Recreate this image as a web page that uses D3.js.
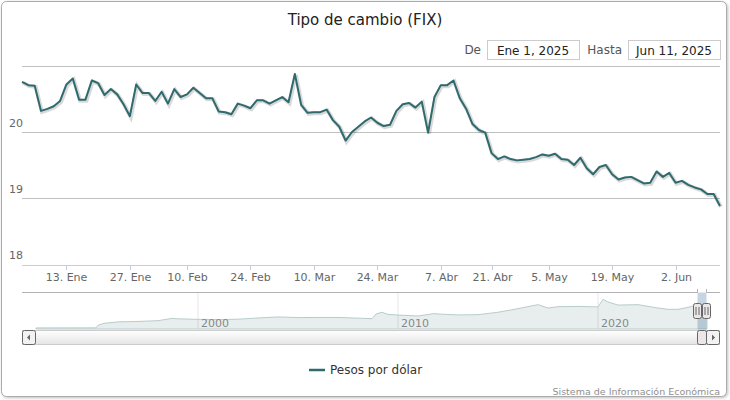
<!DOCTYPE html>
<html><head><meta charset="utf-8">
<script src="https://cdn.jsdelivr.net/npm/d3@7/dist/d3.min.js"></script>
<style>body{margin:0;background:#fff;font-family:"DejaVu Sans",sans-serif}</style>
</head><body><svg id="c" width="730" height="400"></svg>
<script>
const dates = ["2025-01-02","2025-01-03","2025-01-06","2025-01-07","2025-01-08","2025-01-09","2025-01-10","2025-01-13","2025-01-14","2025-01-15","2025-01-16","2025-01-17","2025-01-20","2025-01-21","2025-01-22","2025-01-23","2025-01-24","2025-01-27","2025-01-28","2025-01-29","2025-01-30","2025-01-31",
"2025-02-04","2025-02-05","2025-02-06","2025-02-07","2025-02-10","2025-02-11","2025-02-12","2025-02-13","2025-02-14","2025-02-17","2025-02-18","2025-02-19","2025-02-20","2025-02-21","2025-02-24","2025-02-25","2025-02-26","2025-02-27","2025-02-28",
"2025-03-03","2025-03-04","2025-03-05","2025-03-06","2025-03-07","2025-03-10","2025-03-11","2025-03-12","2025-03-13","2025-03-14","2025-03-17","2025-03-18","2025-03-19","2025-03-20","2025-03-21","2025-03-24","2025-03-25","2025-03-26","2025-03-27","2025-03-28","2025-03-31",
"2025-04-01","2025-04-02","2025-04-03","2025-04-04","2025-04-07","2025-04-08","2025-04-09","2025-04-10","2025-04-11","2025-04-14","2025-04-15","2025-04-16","2025-04-21","2025-04-22","2025-04-23","2025-04-24","2025-04-25","2025-04-28","2025-04-29","2025-04-30",
"2025-05-02","2025-05-05","2025-05-06","2025-05-07","2025-05-08","2025-05-09","2025-05-12","2025-05-13","2025-05-14","2025-05-15","2025-05-16","2025-05-19","2025-05-20","2025-05-21","2025-05-22","2025-05-23","2025-05-26","2025-05-27","2025-05-28","2025-05-29","2025-05-30",
"2025-06-02","2025-06-03","2025-06-04","2025-06-05","2025-06-06","2025-06-09","2025-06-10","2025-06-11"];
const values = [20.76,20.71,20.70,20.32,20.35,20.39,20.47,20.72,20.81,20.49,20.49,20.78,20.74,20.56,20.65,20.57,20.42,20.24,20.72,20.59,20.59,20.47,
20.61,20.43,20.65,20.53,20.57,20.67,20.59,20.51,20.51,20.31,20.30,20.27,20.43,20.40,20.36,20.48,20.48,20.43,20.48,
20.53,20.45,20.88,20.41,20.29,20.30,20.30,20.34,20.18,20.08,19.87,20.00,20.08,20.16,20.22,20.14,20.09,20.11,20.32,20.42,20.44,
20.37,20.46,19.99,20.53,20.71,20.71,20.78,20.51,20.35,20.12,20.03,19.99,19.68,19.59,19.63,19.59,19.57,19.58,19.59,19.62,
19.66,19.64,19.67,19.59,19.58,19.50,19.61,19.45,19.36,19.47,19.50,19.36,19.28,19.31,19.32,19.27,19.22,19.23,19.40,19.32,19.38,
19.23,19.26,19.20,19.16,19.13,19.06,19.06,18.88];
const xTickDates = ["2025-01-13","2025-01-27","2025-02-10","2025-02-24","2025-03-10","2025-03-24","2025-04-07","2025-04-21","2025-05-05","2025-05-19","2025-06-02"];
const xTickLabels = ["13. Ene","27. Ene","10. Feb","24. Feb","10. Mar","24. Mar","7. Abr","21. Abr","5. May","19. May","2. Jun"];
const yTicks = [18,19,20,21];
const navYears = [1991.9,1994.9,1995.0,1995.3,1996,1997,1998,1998.7,1999,2000,2001,2002,2003,2004,2005,2006,2007,2008.7,2008.9,2009.2,2009.5,2010,2011,2011.8,2012,2013,2014,2015,2016,2017,2017.5,2018,2019,2020,2020.25,2020.5,2021,2022,2023,2023.5,2024,2024.5,2025,2025.45];
const navValues = [3.07,3.1,5.0,6.5,7.6,7.9,8.5,10.2,9.9,9.5,9.3,9.6,10.5,11.3,10.8,10.9,10.9,10.0,13.5,14.8,13.2,12.7,12.0,13.8,13.5,12.8,13.0,14.8,17.5,20.5,18.0,19.0,19.2,18.8,24.5,22.5,20.2,20.5,18.0,17.0,17.0,18.5,20.5,19.0];
const navTicks = [2000,2010,2020];

const svg = d3.select("#c");
const col = "#2e6a6e";
const defs = svg.append("defs");
const f = defs.append("filter").attr("id","sh").attr("x","-5%").attr("y","-5%").attr("width","110%").attr("height","110%");
f.append("feDropShadow").attr("dx",1).attr("dy",1).attr("stdDeviation",1.5).attr("flood-color","#000").attr("flood-opacity",0.25);
svg.append("rect").attr("x",1.5).attr("y",1.5).attr("width",725).attr("height",395).attr("rx",5).attr("fill","#fff").attr("stroke","#aaa").attr("filter","url(#sh)");

svg.append("text").attr("x",365).attr("y",25).attr("text-anchor","middle").attr("font-size",15).attr("fill","#222").text("Tipo de cambio (FIX)");
svg.append("text").attr("x",481).attr("y",54).attr("text-anchor","end").attr("font-size",12).attr("fill","#555").text("De");
svg.append("rect").attr("x",487.5).attr("y",40.5).attr("width",92).attr("height",19).attr("fill","#fff").attr("stroke","#ccc");
svg.append("text").attr("x",533).attr("y",55).attr("text-anchor","middle").attr("font-size",12).attr("fill","#222").text("Ene 1, 2025");
svg.append("text").attr("x",622).attr("y",54).attr("text-anchor","end").attr("font-size",12).attr("fill","#555").text("Hasta");
svg.append("rect").attr("x",628.5).attr("y",40.5).attr("width",92).attr("height",19).attr("fill","#fff").attr("stroke","#ccc");
svg.append("text").attr("x",674).attr("y",55).attr("text-anchor","middle").attr("font-size",12).attr("fill","#222").text("Jun 11, 2025");

const x = d3.scalePoint().domain(dates).range([22,720]);
const y = d3.scaleLinear().domain([18,21]).range([264,66]);
const g = svg.append("g");
yTicks.forEach(t=>{
  if(t>18) g.append("line").attr("x1",22).attr("x2",720).attr("y1",y(t)+0.5).attr("y2",y(t)+0.5).attr("stroke","#c0c0c0");
  if(t<21) g.append("text").attr("x",9).attr("y",y(t)-5).attr("font-size",11).attr("fill","#666").text(t);
});
g.append("line").attr("x1",22).attr("x2",720).attr("y1",265.5).attr("y2",265.5).attr("stroke","#c0d0e0");
xTickDates.forEach((d,i)=>{
  const xx=Math.round(x(d))+0.5;
  g.append("line").attr("x1",xx).attr("x2",xx).attr("y1",265).attr("y2",270).attr("stroke","#c0d0e0");
  g.append("text").attr("x",xx).attr("y",281).attr("text-anchor","middle").attr("font-size",11).attr("fill","#666").text(xTickLabels[i]);
});
const line = d3.line().x((d,i)=>x(dates[i])).y(d=>y(d));
g.append("path").attr("d",line(values)).attr("fill","none").attr("stroke","rgba(0,0,0,0.15)").attr("stroke-width",4).attr("transform","translate(1,1)");
g.append("path").attr("d",line(values)).attr("fill","none").attr("stroke",col).attr("stroke-width",2).attr("stroke-linejoin","round");

// navigator
const nx = d3.scaleLinear().domain([1991.9,2025.45]).range([36,707]);
const ny = d3.scaleLinear().domain([3,27]).range([328,296]);
navTicks.forEach(t=>{
  g.append("line").attr("x1",nx(t)).attr("x2",nx(t)).attr("y1",292).attr("y2",329).attr("stroke","#e6e6e6");
});
const area = d3.area().x((d,i)=>nx(navYears[i])).y0(329).y1(d=>ny(d));
g.append("path").attr("d",area(navValues)).attr("fill","rgba(69,114,110,0.12)").attr("stroke","#b8cccc").attr("stroke-width",1);
navTicks.forEach(t=>g.append("text").attr("x",nx(t)+3).attr("y",327).attr("font-size",11).attr("fill","#888").text(t));
g.append("path").attr("d",`M22,292.5H697.5V289M706.5,289V292.5H720`).attr("fill","none").attr("stroke","#b2b1b6");
g.append("rect").attr("x",697.5).attr("y",292.5).attr("width",9).attr("height",37).attr("fill","rgba(69,114,160,0.3)");
const n = navValues.length;
g.append("path").attr("d",d3.line().x((d,i)=>nx(navYears[n-2+i])).y(d=>ny(d))(navValues.slice(-2))).attr("fill","none").attr("stroke",col).attr("stroke-width",1.5);
[697.5,706.5].forEach(hx=>{
  g.append("rect").attr("x",hx-4).attr("y",303.5).attr("width",8).attr("height",15).attr("rx",2).attr("fill","#ebe7e8").attr("stroke","#666");
  g.append("line").attr("x1",hx-1.5).attr("x2",hx-1.5).attr("y1",307).attr("y2",315).attr("stroke","#666");
  g.append("line").attr("x1",hx+1.5).attr("x2",hx+1.5).attr("y1",307).attr("y2",315).attr("stroke","#666");
});
const sg = defs.append("linearGradient").attr("id","sb").attr("x1",0).attr("y1",0).attr("x2",0).attr("y2",1);
sg.append("stop").attr("offset",0).attr("stop-color","#ffffff");sg.append("stop").attr("offset",1).attr("stop-color","#e4e4e4");
g.append("rect").attr("x",22.5).attr("y",330.5).attr("width",697).attr("height",14).attr("fill","url(#sb)").attr("stroke","#ccc");
g.append("rect").attr("x",22.5).attr("y",330.5).attr("width",13).attr("height",14).attr("rx",2).attr("fill","#f2f2f2").attr("stroke","#666");
g.append("path").attr("d","M30,334.5L27,337.5L30,340.5Z").attr("fill","#666");
g.append("rect").attr("x",706.5).attr("y",330.5).attr("width",13).attr("height",14).attr("rx",2).attr("fill","#f2f2f2").attr("stroke","#666");
g.append("path").attr("d","M712,334.5L715,337.5L712,340.5Z").attr("fill","#666");
g.append("rect").attr("x",697.5).attr("y",330.5).attr("width",9).attr("height",14).attr("rx",2).attr("fill","#ebe7e8").attr("stroke","#666");

svg.append("line").attr("x1",309).attr("x2",325).attr("y1",370).attr("y2",370).attr("stroke",col).attr("stroke-width",2.5);
svg.append("text").attr("x",330).attr("y",374).attr("font-size",12).attr("fill","#333").text("Pesos por dólar");
svg.append("text").attr("x",720).attr("y",395).attr("text-anchor","end").attr("font-size",9.5).attr("fill","#909090").text("Sistema de Información Económica");
</script></body></html>
